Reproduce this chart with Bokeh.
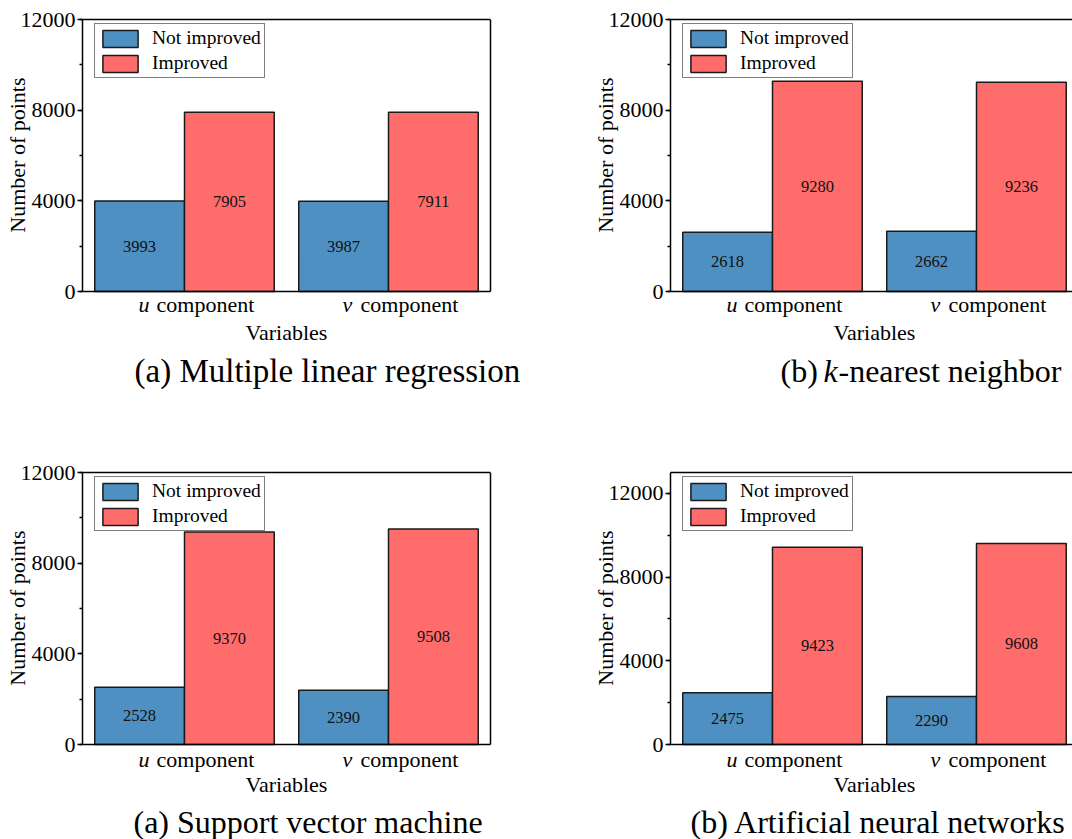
import numpy as np
from bokeh.plotting import figure
from bokeh.models import (ColumnDataSource, Range1d, LinearAxis, SingleIntervalTicker,
                          FixedTicker, Label, Legend, LegendItem, Title)
from bokeh.layouts import column, row
from bokeh.embed import file_html
from bokeh.resources import INLINE
from bokeh.core.properties import value

# ---------------- data ----------------
variables = ["u", "v"]                      # italic variable letters of the categories
category_suffix = "component"
series_names = ["Not improved", "Improved"]
not_improved = [[3993, 3987], [2618, 2662], [2528, 2390], [2475, 2290]]
improved = [[7905, 7911], [9280, 9236], [9370, 9508], [9423, 9608]]
y_max = [12000, 12000, 12000, 13000]
y_tick_step = 4000
x_title = "Variables"
y_title = "Number of points"
# subtitles as (text, italic) segments
subtitles = [
    [("(a) Multiple linear regression", False)],
    [("(b) ", False), ("k", True), ("-nearest neighbor", False)],
    [("(a) Support vector machine", False)],
    [("(b) Artificial neural networks", False)],
]

# ---------------- style ----------------
SERIF = "Liberation Serif"
BLUE = "#4F90C2"
RED = "#FF6C6C"
EDGE = "#1a1a1a"
UNIT_PX = 204.0          # pixels per category step
BAR_W = 0.44
FRAME_H = 272            # height of the 0..y_max box in px
X0 = 0.5
sub_offsets = [[52], [110, 153, 168], [51], [20]]   # px from frame left
sub_sizes = ["33px", "32px", "32px", "32px"]


def no_tick_axis(**kw):
    return LinearAxis(ticker=FixedTicker(ticks=[]), major_label_text_font_size="0px",
                      major_label_standoff=0, major_tick_out=0, minor_tick_out=0,
                      major_tick_in=0, minor_tick_in=0,
                      axis_line_width=1.5, axis_line_color="black", **kw)


def make_panel(i, left_col, top_row):
    width = 580 if left_col else 492
    mbl = 82 if left_col else 90
    fw_box = 408                                  # width of the drawn box (may be cropped)
    mbt = 19 if top_row else 20
    height = 452 if top_row else 387
    frame_h = height - mbt
    frame_w = width - mbl
    x_end = X0 + frame_w / UNIT_PX
    x_box_end = min(X0 + fw_box / UNIT_PX, x_end)
    ym = y_max[i]
    y_start = -(frame_h - FRAME_H) * ym / FRAME_H

    p = figure(width=width, height=height, x_range=Range1d(X0, x_end),
               y_range=Range1d(y_start, ym), output_backend="svg",
               toolbar_location=None, x_axis_type=None, y_axis_type=None,
               min_border_left=mbl, min_border_right=0,
               min_border_top=mbt, min_border_bottom=0,
               outline_line_color=None,
               background_fill_color="white", border_fill_color="white")

    # box lines
    p.add_layout(no_tick_axis(bounds=(X0, x_box_end)), "above")
    p.add_layout(no_tick_axis(bounds=(X0, x_box_end), fixed_location=0), "below")
    if left_col:
        p.add_layout(no_tick_axis(bounds=(0, ym), fixed_location=x_box_end), "right")

    yaxis = LinearAxis(ticker=SingleIntervalTicker(interval=y_tick_step, num_minor_ticks=2),
                       bounds=(0, ym),
                       axis_line_width=1.5, axis_line_color="black",
                       major_tick_out=5, major_tick_in=0, minor_tick_out=3, minor_tick_in=0,
                       major_tick_line_width=1.5, minor_tick_line_width=1.5,
                       major_label_standoff=2,
                       major_label_text_font=SERIF, major_label_text_font_size="22px",
                       major_label_text_color="black")
    p.add_layout(yaxis, "left")
    # y title: anchored to the top of the 0..y_max box
    p.add_layout(Title(text=y_title, align="right", offset=58, vertical_align="bottom",
                       standoff=-25, text_font=SERIF, text_font_size="22px",
                       text_font_style="normal", text_color="black"), "left")

    idx = np.arange(1, len(variables) + 1)
    ni = np.array(not_improved[i])
    im = np.array(improved[i])
    s1 = ColumnDataSource(dict(x=idx - BAR_W / 2, top=ni, mid=ni / 2, lab=[str(v) for v in ni]))
    s2 = ColumnDataSource(dict(x=idx + BAR_W / 2, top=im, mid=im / 2, lab=[str(v) for v in im]))
    r1 = p.vbar(x="x", top="top", width=BAR_W, source=s1, fill_color=BLUE,
                line_color=EDGE, line_width=1.5)
    r2 = p.vbar(x="x", top="top", width=BAR_W, source=s2, fill_color=RED,
                line_color=EDGE, line_width=1.5)
    for s in (s1, s2):
        p.text(x="x", y="mid", text="lab", source=s, text_font=value(SERIF),
               text_font_size="16.5px", text_align="center", text_baseline="middle",
               text_color="#111111")

    legend = Legend(items=[LegendItem(label=series_names[0], renderers=[r1]),
                           LegendItem(label=series_names[1], renderers=[r2])],
                    location=(12, frame_h - 6 - 53),
                    glyph_width=44, glyph_height=21, label_height=21,
                    label_standoff=10, padding=3, spacing=3, margin=0,
                    label_text_font=SERIF, label_text_font_size="19.5px",
                    label_text_color="black",
                    border_line_color="black", border_line_width=1,
                    background_fill_color="white", background_fill_alpha=1)
    p.add_layout(legend)

    # texts under the box (pixel offsets below the zero line)
    dy_tick, dy_title, dy_sub = (13, 41, 79) if top_row else (15, 40, 77)
    for j, var in enumerate(variables):
        cx = float(idx[j])
        p.add_layout(Label(x=cx, y=0, x_offset=-46, y_offset=-dy_tick, text=var,
                           text_font=SERIF, text_font_style="italic", text_font_size="22px",
                           text_align="left", text_baseline="middle", text_color="black"))
        p.add_layout(Label(x=cx, y=0, x_offset=-28, y_offset=-dy_tick, text=category_suffix,
                           text_font=SERIF, text_font_size="22px",
                           text_align="left", text_baseline="middle", text_color="black"))
    p.add_layout(Label(x=(idx[0] + idx[-1]) / 2, y=0, y_offset=-dy_title, text=x_title,
                       text_font=SERIF, text_font_size="22px", text_align="center",
                       text_baseline="middle", text_color="black"))
    for (txt, ital), off in zip(subtitles[i], sub_offsets[i]):
        p.add_layout(Label(x=X0, y=0, x_offset=off, y_offset=-dy_sub, text=txt,
                           text_font=SERIF, text_font_style="italic" if ital else "normal",
                           text_font_size=sub_sizes[i], text_align="left",
                           text_baseline="middle", text_color="black"))
    return p


p1 = make_panel(0, True, True)
p2 = make_panel(1, False, True)
p3 = make_panel(2, True, False)
p4 = make_panel(3, False, False)

layout = column(row(p1, p2), row(p3, p4))
open("out.html", "w").write(file_html(layout, INLINE))
